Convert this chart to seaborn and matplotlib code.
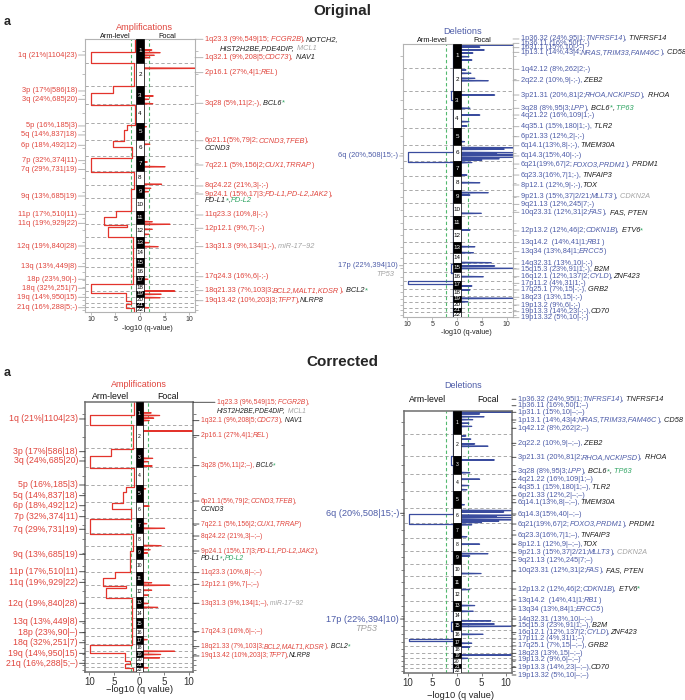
import re
import numpy as np
import pandas as pd
import matplotlib
matplotlib.use("Agg")
import matplotlib.pyplot as plt
import matplotlib.transforms as mtrans
from matplotlib.patches import Rectangle
import seaborn as sns

sns.set_theme(style="white")
plt.rcParams["font.family"] = ["Liberation Sans", "DejaVu Sans"]

# ---------------- data ----------------
chrom_names = [str(i) for i in range(1, 23)]
chrom_len = [249, 243, 198, 191, 181, 171, 159, 146, 141, 136, 135,
             134, 115, 107, 103, 90, 81, 78, 59, 63, 48, 51]

# arm-level amplification profile: segment breakpoints (genome Mb) and -log10 q
amp_arm_breaks = [0, 137, 250, 496, 573, 700, 911, 960, 1076, 1136, 1252, 1403,
                  1585, 1809, 1880, 1960, 1985, 2091, 2587, 2675, 2763, 2799, 2834, 2879]
amp_arm_vals = [1.1, 9.9, 1.3, 5.6, 9.9, 1.1, 2.7, 3.3, 5.5, 1.6, 9.9, 1.3,
                1.9, 4.9, 7.3, 2.6, 6.6, 1.5, 9.9, 2.9, 1.8, 2.9, 1.3]
# focal amplification peaks
amp_peak_pos = [116, 144, 172, 197, 309, 601, 636, 682, 925, 1110, 1297, 1347, 1532,
                1575, 1610, 1927, 1954, 2007, 2060, 2148, 2190, 2534, 2658, 2692, 2728, 2834]
amp_peak_val = [2.4, 4.1, 2.9, 2.0, 14, 2.7, 1.8, 2.6, 1.3, 2.0, 1.5, 5.1, 4.4,
                2.2, 1.7, 2.5, 6.1, 2.5, 1.8, 1.8, 3.7, 1.6, 7.1, 4.3, 4.1, 1.8]

# arm-level deletion profile
del_arm_breaks = [0, 491, 591, 1136, 1241, 2320, 2415, 2501, 2531, 2879]
del_arm_vals = [0.8, 1.3, 0.8, 9.8, 0.8, 1.3, 0.8, 9.8, 0.8]
# focal deletion peaks
del_peak_pos = [11, 32, 63, 95, 134, 169, 274, 309, 362, 387, 538, 678, 749, 819, 865,
                1030, 1094, 1110, 1146, 1160, 1171, 1195, 1210, 1225, 1250, 1382, 1463,
                1568, 1593, 1786, 1962, 2138, 2201, 2306, 2341, 2366, 2454, 2552, 2594,
                2682, 2718]
del_peak_val = [13, 4.6, 5.5, 3.2, 2.4, 3.0, 1.8, 2.8, 3.6, 6.3, 7.6, 2.6, 4.6, 2.4, 2.0,
                1.5, 13, 9.5, 13, 8, 13, 13, 8.5, 5, 3, 2.0, 4.6,
                6.3, 2.6, 4.9, 2.6, 3.6, 3.3, 6.9, 7.6, 13, 5.3, 3.0, 2.6,
                13, 2.2]

x_ticks = [-10, -5, 0, 5, 10]
x_ticklabels = ["10", "5", "0", "5", "10"]

# arm labels (left side) and their genome positions
amp_arm_labels = ["1q (21%|1104|23)", "3p (17%|586|18)", "3q (24%,685|20)", "5p (16%,185|3)",
                  "5q (14%,837|18)", "6p (18%,492|12)", "7p (32%,374|11)", "7q (29%,731|19)",
                  "9q (13%,685|19)", "11p (17%,510|11)", "11q (19%,929|22)", "12q (19%,840|28)",
                  "13q (13%,449|8)", "18p (23%,90|-)", "18q (32%,251|7)", "19q (14%,950|15)",
                  "21q (16%,288|5;-)"]
amp_arm_pos_orig = [169, 548, 636, 917, 1012, 1121, 1283, 1376, 1656, 1849, 1944, 2183,
                    2401, 2534, 2629, 2724, 2834]
amp_arm_pos_corr = [181, 530, 629, 885, 999, 1106, 1223, 1357, 1624, 1810, 1923, 2146,
                    2343, 2460, 2567, 2680, 2786]

# focal peak labels (right side)
amp_peak_labels = [
    "1q23.3 (9%,549|15; {i:FCGR2B}),{k:NOTCH2,}",
    "~>{k:HIST2H2BE,PDE4DIP, }{s:MCL1}",
    "1q32.1 (9%,208|5;{i:CDC73}), {k:NAV1}",
    "2p16.1 (27%,4|1;{i:REL})",
    "3q28 (5%,11|2;-), {k:BCL6}{G:*}",
    "6p21.1(5%,79|2;{i:CCND3,TFEB}),",
    "~{k:CCND3}",
    "7q22.1 (5%,156|2;{i:CUX1,TRRAP})",
    "8q24.22 (21%,3|-;-)",
    "9p24.1 (15%,17|3;{i:PD-L1,PD-L2,JAK2}),",
    "~{k:PD-L1}{G:*}{k:,}{g:PD-L2}",
    "11q23.3 (10%,8|-;-)",
    "12p12.1 (9%,7|-;-)",
    "13q31.3 (9%,134|1;-), {s:miR-17~92}",
    "17q24.3 (16%,6|-;-)",
    "18q21.33 (7%,103|3;{i:BCL2,MALT1,KDSR}), {k:BCL2}{G:*}",
    "19q13.42 (10%,203|3;{i:TFPT}),{k:NLRP8}",
]
amp_peak_lpos_orig = [3, 98, 197, 355, 678, 1073, 1153, 1329, 1550, 1635, 1705, 1856,
                      1996, 2190, 2507, 2654, 2760]
amp_peak_lpos_corr = [3, 96, 199, 359, 679, 1056, 1144, 1301, 1429, 1589, 1674, 1820,
                      1944, 2146, 2449, 2609, 2708]

del_arm_labels = ["6q (20%,508|15;-)", "17p (22%,394|10)"]
del_arm_pos_orig = [1181, 2338]
del_arm_pos_corr = [1124, 2286]
del_gene_label = "TP53"
del_gene_pos_orig = 2426
del_gene_pos_corr = 2388

del_peak_labels = [
    "1p36.32 (24%,95|1;{i:TNFRSF14}), {k:TNFRSF14}",
    "1p36.11 (16%,50|1;-)",
    "1p31.1 (15%,10|-;-)",
    "1p13.1 (14%,43|4;{i:NRAS,TRIM33,FAM46C}), {k:CD58}",
    "1q42.12 (8%,262|2;-)",
    "2q22.2 (10%,9|-;-), {k:ZEB2}",
    "3p21.31 (20%,81|2;{i:RHOA,NCKIPSD}), {k:RHOA}",
    "3q28 (8%,95|3;{i:LPP}), {k:BCL6}{G:*}{k:, }{g:TP63}",
    "4q21.22 (16%,109|1;-)",
    "4q35.1 (15%,180|1;-), {k:TLR2}",
    "6p21.33 (12%,2|-;-)",
    "6q14.1(13%,8|-;-),{k:TMEM30A}",
    "6q14.3(15%,40|-;-)",
    "6q21(19%,67|2;{i:FOXO3,PRDM1}), {k:PRDM1}",
    "6q23.3(16%,7|1;-),{k:TNFAIP3}",
    "8p12.1 (12%,9|-;-),{k:TOX}",
    "9p21.3 (15%,37|2/21;{i:MLLT3}), {s:CDKN2A}",
    "9q21.13 (12%,245|7;-)",
    "10q23.31 (12%,31|2;{i:FAS}), {k:FAS, PTEN}",
    "12p13.2 (12%,46|2;{i:CDKN1B}), {k:ETV6}{G:*}",
    "13q14.2  (14%,41|1;{i:RB1})",
    "13q34 (13%,84|1;{i:ERCC5})",
    "14q32.31 (13%,10|-;-)",
    "15q15.3 (23%,91|1;-), {k:B2M}",
    "16q12.1 (12%,137|2;{i:CYLD}),{k:ZNF423}",
    "17p11.2 (4%,31|1;-)",
    "17q25.1 (7%,15|-;-), {k:GRB2}",
    "18q23 (13%,15|-;-)",
    "19p13.2 (9%,6|-;-)",
    "19p13.3 (14%,23|-;-),{k:CD70}",
    "19p13.32 (5%,10|-;-)",
]
del_peak_lpos_orig = [-53, -7, 39, 88, 267, 387, 538, 678, 749, 872, 978, 1073, 1181, 1266,
                      1382, 1487, 1611, 1691, 1775, 1972, 2095, 2190, 2320, 2373, 2454, 2524,
                      2594, 2671, 2753, 2823, 2886]
del_peak_lpos_corr = [-129, -58, 14, 99, 190, 355, 509, 667, 751, 839, 931, 1008, 1132, 1242,
                      1363, 1462, 1558, 1645, 1758, 1956, 2077, 2176, 2286, 2359, 2436, 2505,
                      2582, 2663, 2736, 2817, 2901]


def dash(s):
    return s.replace("|-", "|\u2013").replace(";-", ";\u2013")


amp_arm_labels_corr = [dash(s) for s in amp_arm_labels]
amp_peak_labels_corr = ([">1q23.3 (9%,549|15; {i:FCGR2B}),",
                         "~>{k:HIST2H2BE,PDE4DIP, }{s:MCL1}"]
                        + [dash(s) for s in amp_peak_labels[2:]])
del_peak_labels_corr = [dash(s) for s in del_peak_labels]

# ---------------- drawing ----------------
W, H = 685, 700
fig = plt.figure(figsize=(W / 100, H / 100), dpi=100)

RED_TXT, RED_LN = "#e0453d", "#e3342c"
BLUE_TXT, BLUE_LN = "#4d5ca8", "#3a4c9e"
GREEN, GRAYTXT, BLK = "#2ea462", "#a3a3a3", "#1e1e1e"

starts = np.concatenate([[0], np.cumsum(chrom_len)[:-1]])
total = int(sum(chrom_len))


def px_rect(l, t, r, b):
    return [l / W, 1 - b / H, (r - l) / W, (b - t) / H]


def blend(ax, dx=0, dy=0):
    base = mtrans.blended_transform_factory(ax.transAxes, ax.transData)
    return base + mtrans.ScaledTranslation(dx / 100, dy / 100, fig.dpi_scale_trans)


STY = {"b": (None, "normal"), "i": (None, "italic"), "k": (BLK, "italic"),
       "g": (GREEN, "italic"), "G": (GREEN, "normal"), "s": (GRAYTXT, "italic")}
TOK = re.compile(r"\{(\w):([^}]*)\}")


def parse(markup):
    parts, pos = [], 0
    for m in TOK.finditer(markup):
        if m.start() > pos:
            parts.append(["b", markup[pos:m.start()]])
        parts.append([m.group(1), m.group(2)])
        pos = m.end()
    if pos < len(markup):
        parts.append(["b", markup[pos:]])
    for i in range(len(parts) - 1):
        s = parts[i][1]
        n = len(s) - len(s.rstrip(" "))
        if n:
            parts[i][1] = s.rstrip(" ")
            parts[i + 1][1] = " " * n + parts[i + 1][1]
    return [p for p in parts if p[1]]


def rich(ax, g, markup, dx, base, fs):
    t = None
    for code, s in parse(markup):
        col, sty = STY[code]
        col = col or base
        if t is None:
            t = ax.text(1, g, s, transform=blend(ax, dx), ha="left", va="center",
                        fontsize=fs, color=col, style=sty, clip_on=False)
        else:
            t = ax.annotate(s, xy=(1, 0), xycoords=t, ha="left", va="bottom",
                            fontsize=fs, color=col, style=sty, annotation_clip=False)


def leader(ax, xa, g, dx, color, lw):
    ax.annotate("", xy=(xa, g), xycoords=blend(ax), xytext=(dx, 0),
                textcoords="offset pixels", annotation_clip=False,
                arrowprops=dict(arrowstyle="-", color=color, lw=lw, shrinkA=0, shrinkB=0))


def panel(cfg):
    ax = fig.add_axes(px_rect(*cfg["box"]))
    amp = cfg["kind"] == "amp"
    ln = RED_LN if amp else BLUE_LN
    tx = RED_TXT if amp else BLUE_TXT
    thr = 1.75 if amp else 2.2

    for e in np.cumsum(chrom_len)[:-1]:
        ax.axhline(e, color="#9c9c9c", lw=0.6, ls=(0, (4, 3)), zorder=1)
    for s in (-thr, thr):
        ax.axvline(s, color="#52b96e", lw=0.8, ls=(0, (3, 2.2)), zorder=1)

    # arm-level profile (plotted to the left)
    brk, vals = (amp_arm_breaks, amp_arm_vals) if amp else (del_arm_breaks, del_arm_vals)
    axx, ayy = [], []
    for a, b, v in zip(brk[:-1], brk[1:], vals):
        axx += [-v, -v]
        ayy += [a, b]
    sns.lineplot(x=axx, y=ayy, sort=False, estimator=None, orient="y",
                 color=ln, lw=0.9, ax=ax, zorder=2)

    # focal profile (plotted to the right)
    pp, pv = (amp_peak_pos, amp_peak_val) if amp else (del_peak_pos, del_peak_val)
    fx, fy = [0.75], [0]
    for p, v in sorted(zip(pp, pv)):
        fx += [0.75, v, v, 0.75]
        fy += [p - 5, p - 1, p + 1, p + 5]
    fx.append(0.75)
    fy.append(total)
    sns.lineplot(x=fx, y=fy, sort=False, estimator=None, orient="y",
                 color=ln, lw=0.8, ax=ax, zorder=2)

    # chromosome bar
    for i, (s, l) in enumerate(zip(starts, chrom_len)):
        dark = i % 2 == 0
        ax.add_patch(Rectangle((-0.75, s), 1.5, l, facecolor="black" if dark else "white",
                               edgecolor="black", lw=0.5, zorder=3))
        ax.text(0, s + l / 2, chrom_names[i], color="white" if dark else "black",
                ha="center", va="center", fontsize=cfg["cfs"], zorder=4)

    ax.set_xlim(*cfg["xlim"])
    ax.set_ylim(total, 0)
    ax.set_xticks(x_ticks)
    ax.set_xticklabels(x_ticklabels)
    ax.set_yticks(starts + np.array(chrom_len) / 2)
    ax.set_yticklabels([])
    ax.set_xlabel("")
    ax.set_ylabel("")
    spc = cfg["spc"]
    ax.tick_params(axis="y", left=True, right=True, length=2.5, width=0.6,
                   color=spc, direction="out")
    ax.tick_params(axis="x", bottom=True, length=2.5, width=0.6, color=spc,
                   labelsize=cfg["tfs"], pad=cfg["tpad"], labelcolor="#333333")
    for sp in ax.spines.values():
        sp.set_visible(True)
        sp.set_color(spc)
        sp.set_linewidth(cfg["slw"])

    # headers
    hb = mtrans.blended_transform_factory(ax.transData, ax.transAxes)
    ax.annotate(cfg["title"], xy=(cfg["title_x"], 1), xycoords=hb, xytext=(0, cfg["title_dy"]),
                textcoords="offset pixels", ha="center", va="center",
                fontsize=cfg["hfs"], color=tx, annotation_clip=False)
    for lab, xv in (("Arm-level", cfg["arm_x"]), ("Focal", cfg["foc_x"])):
        ax.annotate(lab, xy=(xv, 1), xycoords=hb, xytext=(0, cfg["sub_dy"]),
                    textcoords="offset pixels", ha="center", va="center",
                    fontsize=cfg["sfs"], color="#111111", annotation_clip=False)
    ax.annotate(cfg["xlabel"], xy=(cfg["xl_x"], 0), xycoords=hb, xytext=(0, -cfg["xl_dy"]),
                textcoords="offset pixels", ha="center", va="center",
                fontsize=cfg["xfs"], color="#222222", annotation_clip=False)

    # left (arm-level) labels
    for lab, g in zip(cfg["arm_labels"], cfg["arm_pos"]):
        ax.text(0, g, lab, transform=blend(ax, -cfg["dxL"]), ha="right", va="center",
                fontsize=cfg["fsL"], color=tx, clip_on=False)
        leader(ax, 0, g, -cfg["dxL"] + 1.5, cfg["lc"], 0.6)
    if not amp:
        ax.text(0, cfg["gene_pos"], del_gene_label, transform=blend(ax, -cfg["gene_dx"]),
                ha="right", va="center", fontsize=cfg["fsL"], color=GRAYTXT,
                style="italic", clip_on=False)

    # right (focal) labels
    for lab, g in zip(cfg["peak_labels"], cfg["peak_pos"]):
        lead = not lab.startswith("~")
        lab = lab.lstrip("~")
        ind = lab.startswith(">")
        lab = lab.lstrip(">")
        dx = cfg["dxR"] + (cfg["indent"] if ind else 0)
        rich(ax, g, lab, dx, tx, cfg["fsR"])
        if lead:
            leader(ax, 1, g, dx - 2, cfg["lc"], 0.6)
    return ax


top = dict(spc="#b3b3b3", slw=0.8, tfs=5, tpad=0.5, cfs=4.5, hfs=6.6, sfs=5.2,
           xfs=5.2, xlabel="-log10 (q-value)", lc="#a8a8a8", fsL=5.4, fsR=5.3, indent=15)
bot = dict(spc="#6e6e6e", slw=1.1, tfs=7, tpad=1.0, cfs=3.6, hfs=6.5, sfs=6.3,
           xfs=6.7, xlabel="\u2212log10 (q value)", lc="#333333", fsR=5.1, indent=16)

panel(dict(top, kind="amp", box=(85, 39, 195, 312), xlim=(-11.2, 11.2),
           title="Amplifications", title_x=1.0, title_dy=12, arm_x=-5.0, foc_x=5.5, sub_dy=3,
           xl_x=1.6, xl_dy=17, dxL=8, dxR=10,
           arm_labels=amp_arm_labels, arm_pos=amp_arm_pos_orig,
           peak_labels=amp_peak_labels, peak_pos=amp_peak_lpos_orig))
panel(dict(top, kind="del", box=(403, 44, 513, 317), xlim=(-10.9, 11.3),
           title="Deletions", title_x=1.2, title_dy=13, arm_x=-5.0, foc_x=5.0, sub_dy=4,
           xl_x=1.8, xl_dy=15, dxL=5, dxR=8, gene_pos=del_gene_pos_orig, gene_dx=9,
           arm_labels=del_arm_labels, arm_pos=del_arm_pos_orig,
           peak_labels=del_peak_labels, peak_pos=del_peak_lpos_orig))
panel(dict(bot, kind="amp", box=(85, 402, 193, 672), xlim=(-10.9, 10.8),
           title="Amplifications", title_x=0.0, title_dy=17, arm_x=-5.8, foc_x=5.8, sub_dy=5,
           xl_x=0.0, xl_dy=18, dxL=7, dxR=8, fsL=6.3, fsR=4.9,
           arm_labels=amp_arm_labels_corr, arm_pos=amp_arm_pos_corr,
           peak_labels=amp_peak_labels_corr, peak_pos=amp_peak_lpos_corr))
panel(dict(bot, kind="del", box=(404, 411, 512, 673), xlim=(-10.8, 11.2),
           title="Deletions", title_x=1.2, title_dy=25, arm_x=-6.1, foc_x=6.4, sub_dy=12,
           xl_x=0.7, xl_dy=22, dxL=5, dxR=6, fsL=6.6, fsR=5.3,
           gene_pos=del_gene_pos_corr, gene_dx=27,
           arm_labels=del_arm_labels, arm_pos=del_arm_pos_corr,
           peak_labels=del_peak_labels_corr, peak_pos=del_peak_lpos_corr))

fig.text(342 / W, 1 - 11 / H, "Original", ha="center", va="center", fontsize=11, weight="bold")
fig.text(342 / W, 1 - 362 / H, "Corrected", ha="center", va="center", fontsize=11, weight="bold")
fig.text(4 / W, 1 - 22 / H, "a", ha="left", va="center", fontsize=9, weight="bold")
fig.text(4 / W, 1 - 373 / H, "a", ha="left", va="center", fontsize=9, weight="bold")

fig.savefig("out.png", dpi=100)
